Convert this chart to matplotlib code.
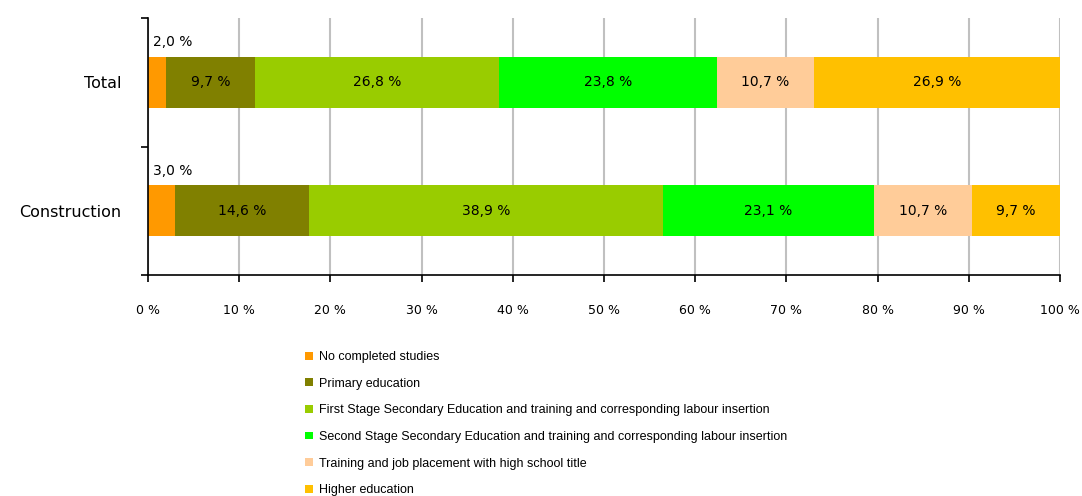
import matplotlib

matplotlib.use("Agg")
import matplotlib.pyplot as plt
from matplotlib.patches import Patch
import numpy as np

CATEGORIES = ["Construction", "Total"]
LEVELS = [
    "No completed studies",
    "Primary education",
    "First Stage Secondary Education and training and corresponding labour insertion",
    "Second Stage Secondary Education and training and corresponding labour insertion",
    "Training and job placement with high school title",
    "Higher education",
]
COLORS = ["#FF9900", "#808000", "#99CC00", "#00FF00", "#FFCC99", "#FFC000"]

# shares per level, in order Construction, Total
CONSTRUCTION = [3.0, 14.6, 38.9, 23.1, 10.7, 9.7]
TOTAL = [2.0, 9.7, 26.8, 23.8, 10.7, 26.9]

CHART_FONT = "DejaVu Sans"


def fmt(v):
    return f"{v:.1f}".replace(".", ",") + " %"


def main():
    plt.rcParams["font.family"] = ["Liberation Sans", "DejaVu Sans"]
    fig = plt.figure(figsize=(10.82, 4.96), dpi=100)
    ax = fig.add_axes([148 / 1082, 1 - 275 / 496, 912 / 1082, 257 / 496])

    data = np.array([CONSTRUCTION, TOTAL])
    # 100% stacked: each bar is scaled to its own sum
    shares = data / data.sum(axis=1, keepdims=True) * 100
    y = np.arange(len(CATEGORIES))
    left = np.zeros(len(CATEGORIES))

    for j, color in enumerate(COLORS):
        w = shares[:, j]
        ax.barh(y, w, left=left, height=0.4, color=color, zorder=2)
        for i in range(len(CATEGORIES)):
            if j == 0:
                ax.text(left[i] + 0.6, y[i] + 0.31, fmt(data[i, j]),
                        ha="left", va="center", fontsize=10,
                        family=CHART_FONT)
            else:
                ax.text(left[i] + w[i] / 2, y[i], fmt(data[i, j]),
                        ha="center", va="center", fontsize=10,
                        family=CHART_FONT)
        left += w

    ax.set_xlim(0, 100)
    ax.set_ylim(-0.5, 1.5)
    ax.set_xticks(np.arange(0, 101, 10))
    ax.set_xticklabels([f"{t} %" for t in range(0, 101, 10)], fontsize=9,
                       family=CHART_FONT)
    ax.set_yticks(y)
    ax.set_yticklabels(CATEGORIES, fontsize=11.5, family=CHART_FONT)
    ax.set_yticks([-0.5, 0.5, 1.5], minor=True)
    ax.tick_params(axis="y", which="major", length=0, pad=19)
    ax.tick_params(axis="y", which="minor", length=5, width=1.2)
    ax.tick_params(axis="x", length=5, width=1.2, pad=16)

    ax.grid(axis="x", color="#C0C0C0", linewidth=1.5, zorder=0)
    for side in ["top", "right"]:
        ax.spines[side].set_visible(False)
    for side in ["left", "bottom"]:
        ax.spines[side].set_linewidth(1.2)

    handles = [Patch(facecolor=c, edgecolor="none") for c in COLORS]
    fig.legend(handles, LEVELS, loc="upper left",
               bbox_to_anchor=(300 / 1082, 1 - 346 / 496),
               frameon=False, fontsize=9, handlelength=0.6,
               handleheight=0.6, handletextpad=0.55, labelspacing=1.17,
               borderaxespad=0)

    fig.savefig("out.png", dpi=100)
    plt.close(fig)


if __name__ == "__main__":
    main()
